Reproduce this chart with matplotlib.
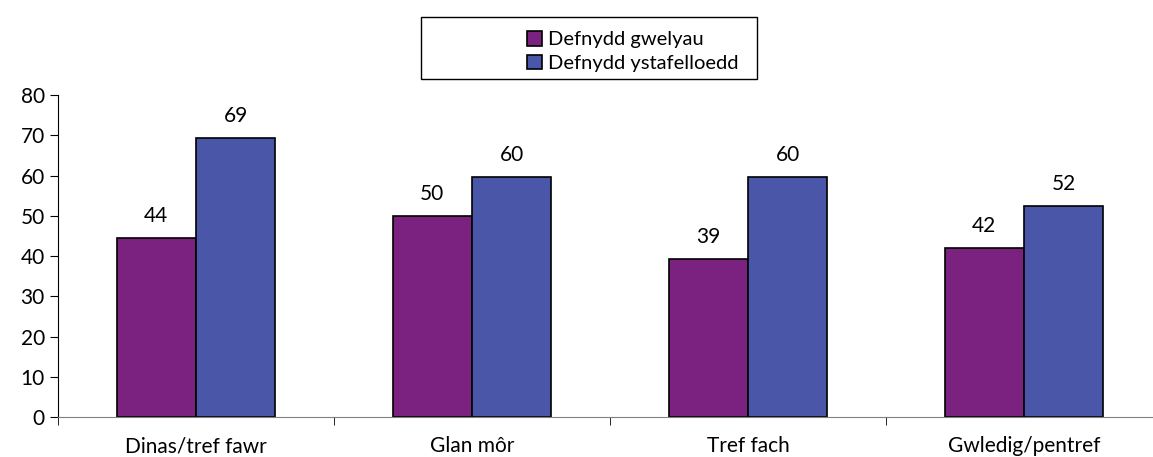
import matplotlib
matplotlib.use("Agg")
import matplotlib.pyplot as plt
import numpy as np
from matplotlib.patches import Rectangle

categories = ["Dinas/tref fawr", "Glan môr", "Tref fach", "Gwledig/pentref"]
gwelyau = [44.4, 49.9, 39.2, 42.1]
ystafelloedd = [69.4, 59.7, 59.6, 52.4]
labels_gwelyau = ["44", "50", "39", "42"]
labels_ystafelloedd = ["69", "60", "60", "52"]

plt.rcParams["font.family"] = ["Lato", "DejaVu Sans"]

fig = plt.figure(figsize=(11.53, 4.57), dpi=100)
ax = fig.add_axes([58 / 1153, 0.0875, 1104 / 1153, 0.7045])

x = np.arange(len(categories))
w = 0.287
b1 = ax.bar(x - w / 2, gwelyau, w, color="#7B2180", edgecolor="black", linewidth=1.2,
            label="Defnydd gwelyau")
b2 = ax.bar(x + w / 2, ystafelloedd, w, color="#4A56A8", edgecolor="black", linewidth=1.2,
            label="Defnydd ystafelloedd")

for bars, labs in ((b1, labels_gwelyau), (b2, labels_ystafelloedd)):
    for r, t in zip(bars, labs):
        ax.text(r.get_x() + r.get_width() / 2, r.get_height() + 3, t,
                ha="center", va="bottom", fontsize=15)

ax.set_xlim(-0.5, len(categories) - 0.5)
ax.set_ylim(0, 80)
ax.set_yticks(range(0, 81, 10))
ax.tick_params(axis="y", labelsize=15, length=6, direction="out", color="black")
ax.set_xticks(x)
ax.set_xticklabels(categories, fontsize=15)
ax.tick_params(axis="x", which="major", length=0, pad=14)
ax.set_xticks(np.arange(-0.5, len(categories), 1.0), minor=True)
ax.tick_params(axis="x", which="minor", length=6, color="black")

for s in ("top", "right"):
    ax.spines[s].set_visible(False)
ax.spines["bottom"].set_color("#808080")
ax.spines["left"].set_color("black")

# legend box
fig.patches.append(Rectangle((421 / 1153, 1 - 79 / 457), 336 / 1153, 62 / 457,
                             transform=fig.transFigure, facecolor="white",
                             edgecolor="black", linewidth=1))
leg = fig.legend(handles=[b1, b2], loc="upper left",
                 bbox_to_anchor=(513 / 1153, 1 - 17 / 457), frameon=False,
                 fontsize=14.5, handlelength=0.75, handleheight=0.75,
                 handletextpad=0.3, labelspacing=0.3, borderpad=0.2)

plt.savefig("out.png")
